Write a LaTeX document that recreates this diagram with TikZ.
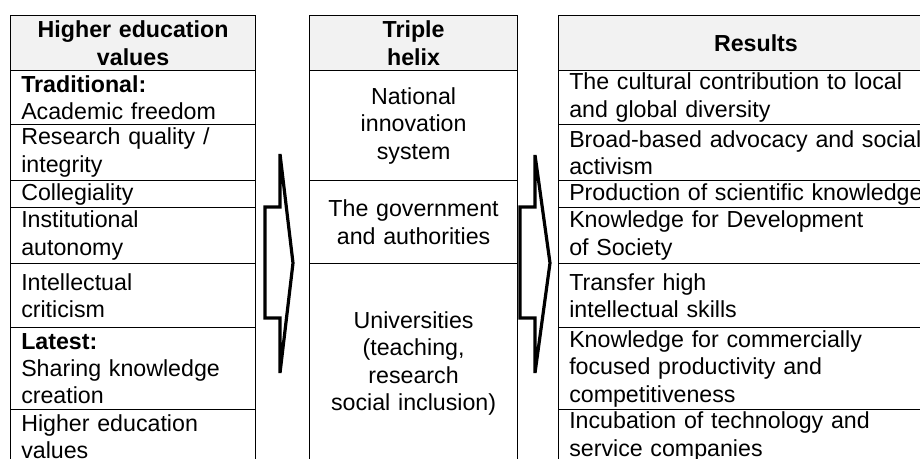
\documentclass[tikz,border=0pt]{standalone}
\usepackage{fontspec}
\setmainfont{Liberation Sans}
\newcommand\cellfont{\fontsize{17.4pt}{20.6pt}\selectfont}
\tikzset{
  cell/.style={draw, line width=0.9pt, anchor=north west, inner xsep=8pt,
    inner ysep=1pt, align=left, font=\cellfont},
  head/.style={cell, fill=black!5, align=center, font=\cellfont\bfseries},
  lcol/.style={text width=167.75pt},
  mcol/.style={text width=140pt, align=center},
  rcol/.style={text width=280pt},
  flow/.style={line width=2.4pt, line join=miter}
}
\begin{document}
\begin{tikzpicture}[x=0.75pt, y=-0.75pt]
  \useasboundingbox (0,0) rectangle (920,459);

  \node[head, lcol, minimum height=41.25pt] (values) at (10,15) {Higher education\\values};
  \node[cell, lcol, minimum height=40.5pt] (trad) at (10,70) {\textbf{Traditional:}\\Academic freedom};
  \node[cell, lcol, minimum height=42pt] (quality) at (10,124) {Research quality /\\integrity};
  \node[cell, lcol, minimum height=20.25pt] (coll) at (10,180) {Collegiality};
  \node[cell, lcol, minimum height=42pt] (auton) at (10,207) {Institutional\\autonomy};
  \node[cell, lcol, minimum height=48pt] (crit) at (10,263) {Intellectual\\criticism};
  \node[cell, lcol, minimum height=61.5pt] (latest) at (10,327) {\textbf{Latest:}\\Sharing knowledge\\creation};
  \node[cell, lcol, minimum height=40.5pt] (hev) at (10,409) {Higher education\\values};

  \node[head, mcol, minimum height=41.25pt] (helix) at (309,15) {Triple\\helix};
  \node[cell, mcol, minimum height=82.5pt] (nis) at (309,70) {National\\innovation\\system};
  \node[cell, mcol, minimum height=62.25pt] (gov) at (309,180) {The government\\and authorities};
  \node[cell, mcol, minimum height=150pt] (univ) at (309,263) {Universities\\(teaching,\\research\\social inclusion)};

  \node[head, rcol, minimum height=41.25pt] (results) at (558,15) {Results};
  \node[cell, rcol, minimum height=40.5pt] (res1) at (558,70) {The cultural contribution to local\\and global diversity};
  \node[cell, rcol, minimum height=42pt] (res2) at (558,124) {Broad-based advocacy and social\\activism};
  \node[cell, rcol, minimum height=20.25pt] (res3) at (558,180) {Production of scientific knowledge};
  \node[cell, rcol, minimum height=42pt] (res4) at (558,207) {Knowledge for Development\\of Society};
  \node[cell, rcol, minimum height=48pt] (res5) at (558,263) {Transfer high\\intellectual skills};
  \node[cell, rcol, minimum height=61.5pt] (res6) at (558,327) {Knowledge for commercially\\focused productivity and\\competitiveness};
  \node[cell, rcol, minimum height=40.5pt] (res7) at (558,409) {Incubation of technology and\\service companies};

  \draw[flow] (280,154) -- (293,263) -- (280,373) -- (280,318) -- (265,318)
    -- (265,207) -- (280,207) -- cycle;
  \draw[flow] (535,155) -- (550,263) -- (535,373) -- (535,318) -- (520,318)
    -- (520,207) -- (535,207) -- cycle;
\end{tikzpicture}
\end{document}
